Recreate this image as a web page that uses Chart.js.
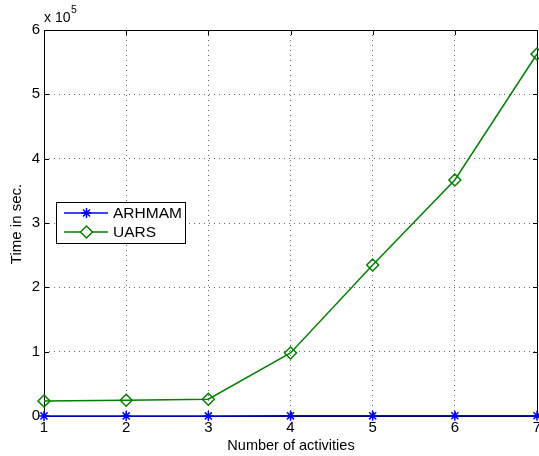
<!DOCTYPE html>
<html>
<head>
<meta charset="utf-8">
<script src="https://cdn.jsdelivr.net/npm/chart.js@4.4.1/dist/chart.umd.min.js"></script>
<style>
html,body{margin:0;padding:0;background:#fff;}
#wrap{width:539px;height:456px;position:relative;}
</style>
</head>
<body>
<div id="wrap"><canvas id="c" width="539" height="456"></canvas></div>
<script>
const categories = [1, 2, 3, 4, 5, 6, 7];
const arhmamValues = [120, 150, 180, 220, 260, 300, 350];
const uarsValues = [23300, 24500, 26000, 97900, 234700, 366800, 562700];
const yTickLabels = ['0', '1', '2', '3', '4', '5', '6'];
const seriesNames = ['ARHMAM', 'UARS'];
const FONT = '"Liberation Sans", Arial, sans-serif';

function plotBox(chart) {
  const xs = chart.scales.x, ys = chart.scales.y;
  return {
    left: Math.round(xs.getPixelForValue(xs.min)),
    right: Math.round(xs.getPixelForValue(xs.max)) + 1,
    top: Math.round(ys.getPixelForValue(ys.max)),
    bottom: Math.round(ys.getPixelForValue(ys.min)) + 1
  };
}

const frame = {
  id: 'frame',
  beforeDatasetsDraw(chart) {
    const ctx = chart.ctx;
    const xs = chart.scales.x, ys = chart.scales.y;
    const a = plotBox(chart);
    ctx.save();
    ctx.strokeStyle = '#000';
    ctx.lineWidth = 1;
    ctx.strokeRect(a.left + 0.5, a.top + 0.5, a.right - a.left - 1, a.bottom - a.top - 1);
    ctx.beginPath();
    xs.ticks.forEach(t => {
      const px = Math.round(xs.getPixelForValue(t.value)) + 0.5;
      ctx.moveTo(px, a.bottom); ctx.lineTo(px, a.bottom - 5);
      ctx.moveTo(px, a.top); ctx.lineTo(px, a.top + 5);
    });
    ys.ticks.forEach(t => {
      const py = Math.round(ys.getPixelForValue(t.value)) + 0.5;
      ctx.moveTo(a.left, py); ctx.lineTo(a.left + 5, py);
      ctx.moveTo(a.right, py); ctx.lineTo(a.right - 5, py);
    });
    ctx.stroke();
    ctx.restore();
  },
  afterDraw(chart) {
    const ctx = chart.ctx;
    const xs = chart.scales.x;
    const a = plotBox(chart);
    ctx.save();
    ctx.fillStyle = '#000';
    ctx.textAlign = 'center';
    ctx.textBaseline = 'top';
    ctx.font = '15px ' + FONT;
    categories.forEach(v => {
      ctx.fillText(String(v), xs.getPixelForValue(v), a.bottom + 3);
    });
    ctx.textBaseline = 'middle';
    ctx.font = '14.5px ' + FONT;
    ctx.fillText('Number of activities', (a.left + a.right) / 2, 446);
    ctx.save();
    ctx.translate(17, 224);
    ctx.rotate(-Math.PI / 2);
    ctx.font = '15px ' + FONT;
    ctx.fillText('Time in sec.', 0, 0);
    ctx.restore();
    ctx.textAlign = 'left';
    ctx.textBaseline = 'alphabetic';
    ctx.font = '14px ' + FONT;
    ctx.fillText('x 10', 44, 22);
    ctx.font = '10.5px ' + FONT;
    ctx.fillText('5', 71, 13);
    // legend
    const lx = 56, ly = 202, lw = 129, lh = 41;
    ctx.fillStyle = '#fff';
    ctx.fillRect(lx, ly, lw, lh);
    ctx.strokeStyle = '#000';
    ctx.lineWidth = 1;
    ctx.strokeRect(lx + 0.5, ly + 0.5, lw, lh);
    const rows = [213, 232];
    chart.data.datasets.forEach((ds, i) => {
      const y = rows[i];
      ctx.strokeStyle = ds.borderColor;
      ctx.lineWidth = 1.5;
      ctx.beginPath();
      ctx.moveTo(64, y); ctx.lineTo(108, y);
      ctx.stroke();
      ctx.fillStyle = '#ffffff';
      ctx.strokeStyle = ds.borderColor;
      Chart.helpers.drawPoint(ctx, {pointStyle: ds.pointStyle, radius: ds.pointRadius, borderWidth: ds.pointBorderWidth}, 86.5, y);
      ctx.fillStyle = '#000';
      ctx.font = '15.5px ' + FONT;
      ctx.textBaseline = 'middle';
      ctx.textAlign = 'left';
      ctx.fillText(ds.label, 113, y + 1);
    });
    ctx.restore();
  }
};

new Chart(document.getElementById('c'), {
  type: 'line',
  data: {
    datasets: [
      {
        label: seriesNames[0],
        data: categories.map((x, i) => ({x: x, y: arhmamValues[i]})),
        borderColor: '#0000ff',
        backgroundColor: '#0000ff',
        borderWidth: 1.5,
        pointStyle: 'star',
        pointRadius: 5,
        pointBorderWidth: 1.5,
        pointBorderColor: '#0000ff',
        tension: 0,
        clip: false
      },
      {
        label: seriesNames[1],
        data: categories.map((x, i) => ({x: x, y: uarsValues[i]})),
        borderColor: '#008000',
        backgroundColor: 'rgba(255,255,255,0)',
        borderWidth: 1.5,
        pointStyle: 'rectRot',
        pointRadius: 6,
        pointBorderWidth: 1.5,
        pointBorderColor: '#008000',
        tension: 0,
        clip: false
      }
    ]
  },
  options: {
    responsive: false,
    animation: false,
    devicePixelRatio: 1,
    layout: {autoPadding: false, padding: {top: 30, right: 2, left: 0, bottom: 0}},
    plugins: {legend: {display: false}, tooltip: {enabled: false}},
    scales: {
      x: {
        type: 'linear',
        min: 1, max: 7,
        afterFit(s) { s.height = 40; },
        border: {display: false, dash: [1, 4]},
        grid: {color: 'rgba(0,0,0,0.6)', lineWidth: 1, drawTicks: false},
        ticks: {display: false, stepSize: 1},
        afterBuildTicks(s) { s.ticks = categories.map(v => ({value: v})); }
      },
      y: {
        min: 0, max: 600000,
        afterFit(s) { s.width = 44; },
        border: {display: false, dash: [1, 4]},
        grid: {color: 'rgba(0,0,0,0.6)', lineWidth: 1, drawTicks: false},
        ticks: {stepSize: 100000, color: '#000', padding: 4, font: {family: FONT, size: 15}, callback: (v, i) => yTickLabels[i]}
      }
    }
  },
  plugins: [frame]
});
</script>
</body>
</html>
